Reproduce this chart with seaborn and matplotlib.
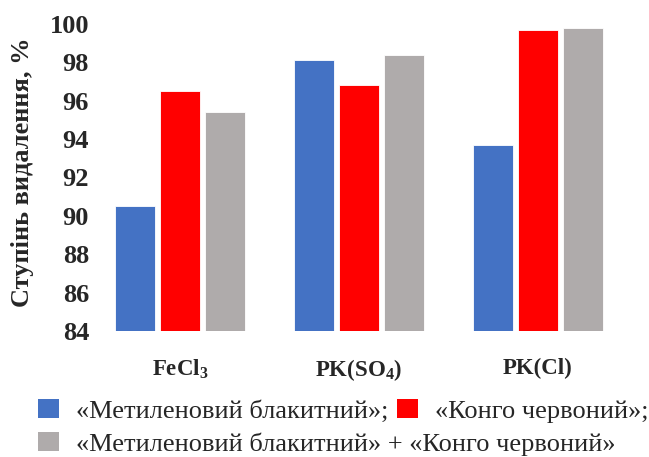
import matplotlib
matplotlib.use("Agg")
import matplotlib.pyplot as plt
from matplotlib.patches import Patch
import seaborn as sns
import pandas as pd

# Coagulants tested and dye removal degree (%) for each dye system
coagulants = [r"FeCl$_{\mathbf{3}}$", r"PK(SO$_{\mathbf{4}}$)", "PK(Cl)"]
series = [
    "«Метиленовий блакитний»",
    "«Конго червоний»",
    "«Метиленовий блакитний» + «Конго червоний»",
]
methylene_blue = [90.5, 98.1, 93.7]
congo_red = [96.5, 96.8, 99.7]
mixture = [95.4, 98.4, 99.8]
legend_labels = [
    "«Метиленовий блакитний»;",
    "«Конго червоний»;",
    "«Метиленовий блакитний» + «Конго червоний»",
]
colors = ["#4472C4", "#FF0000", "#AFABAB"]
y_ticks = [84, 86, 88, 90, 92, 94, 96, 98, 100]

df = pd.DataFrame({
    "coagulant": coagulants * 3,
    "series": [s for s in series for _ in coagulants],
    "value": methylene_blue + congo_red + mixture,
})

sns.set_theme(style="white")
plt.rcParams["font.family"] = ["Liberation Serif", "DejaVu Serif"]
plt.rcParams["mathtext.fontset"] = "custom"
plt.rcParams["mathtext.rm"] = "Liberation Serif:bold"
plt.rcParams["mathtext.bf"] = "Liberation Serif:bold"
plt.rcParams["mathtext.it"] = "Liberation Serif:bold"

fig = plt.figure(figsize=(6.49, 4.57), dpi=100)
ax = fig.add_axes([0.1394, 0.2757, 0.8274, 0.6718])

sns.barplot(
    data=df, x="coagulant", y="value", hue="series",
    order=coagulants, hue_order=series, palette=colors,
    width=0.754, gap=0.13, legend=False, ax=ax,
    edgecolor="white", linewidth=0.6, saturation=1,
)

ax.set_ylim(84, 100)
ax.set_xlim(-0.5, 2.5)
ax.set_yticks(y_ticks)
ax.set_yticklabels([str(t) for t in y_ticks], fontsize=19, fontweight="bold")
ax.tick_params(axis="y", length=0, pad=1)
ax.tick_params(axis="x", length=0, pad=19, labelsize=16.5)
for lbl in ax.get_xticklabels():
    lbl.set_fontweight("bold")
ax.set_xlabel("")
ax.set_ylabel("Ступінь видалення, %", fontsize=19, fontweight="bold", va="center")
ax.yaxis.set_label_coords(-0.1257, 0.518)
sns.despine(ax=ax, left=True, bottom=True)

handles = [Patch(facecolor=c, edgecolor="none") for c in colors]
common = dict(frameon=False, fontsize=19, handlelength=0.8, handleheight=0.72,
              handletextpad=0.65, borderpad=0, borderaxespad=0, loc="center left")
fig.legend(handles[:2], legend_labels[:2], ncol=2, columnspacing=0.3,
           bbox_to_anchor=(38 / 649, 0.1007), **common)
fig.legend(handles[2:], legend_labels[2:], ncol=1,
           bbox_to_anchor=(38 / 649, 0.0284), **common)

fig.savefig("out.png", dpi=100)
